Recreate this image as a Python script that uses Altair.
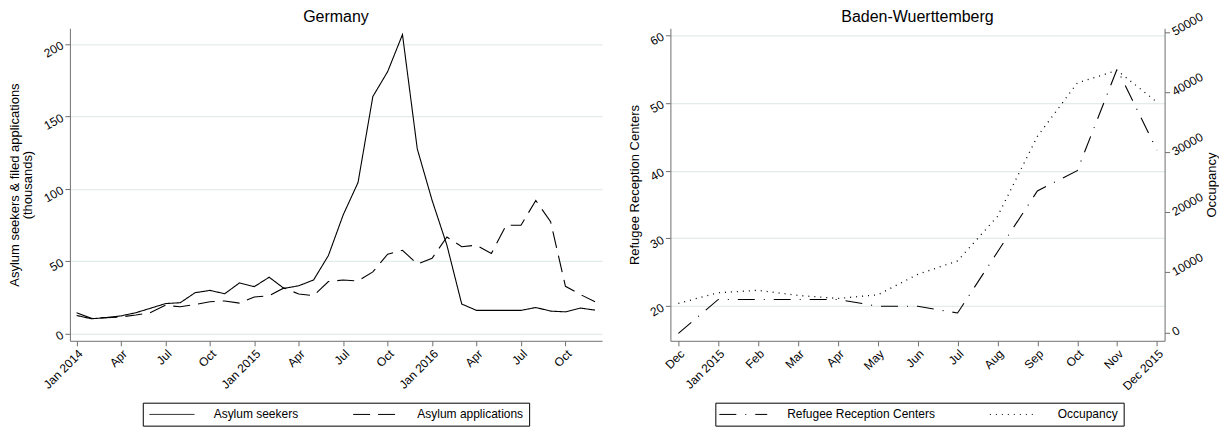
import json
import altair as alt
import pandas as pd

FONT = "Liberation Sans"

# ---------------- Germany (monthly, Jan 2014 - Dec 2016), thousands ----------------
de_months = [f"{y}-{m:02d}" for y in (2014, 2015, 2016) for m in range(1, 13)]
seekers = [12.5, 10.2, 11.0, 12.2, 14.4, 17.5, 20.7, 21.3, 28.2, 29.8, 27.5, 35.0,
           32.4, 38.9, 31.2, 33.0, 37.0, 53.9, 82.0, 104.3, 163.7, 180.9, 206.5, 127.5,
           92.0, 61.0, 20.4, 16.0, 16.0, 16.0, 16.0, 18.0, 15.5, 15.0, 17.6, 16.2]
applications = [14.4, 10.5, 11.0, 11.5, 12.8, 14.5, 19.5, 18.5, 20.0, 22.0, 22.5, 21.0,
                25.2, 26.2, 31.5, 27.3, 26.2, 35.9, 37.0, 36.3, 42.6, 54.8, 57.5, 48.0,
                52.0, 66.7, 60.0, 61.0, 55.3, 74.8, 74.8, 91.9, 77.3, 32.6, 27.0, 22.0]
de_series = ["Asylum seekers", "Asylum applications"]
de_tick_labels = ["Jan 2014", "Apr", "Jul", "Oct", "Jan 2015", "Apr", "Jul", "Oct",
                  "Jan 2016", "Apr", "Jul", "Oct"]
de_y_ticks = [0, 50, 100, 150, 200]

# ---------------- Baden-Wuerttemberg (monthly, Dec 2014 - Dec 2015) ----------------
bw_months = ["2014-12"] + [f"2015-{m:02d}" for m in range(1, 13)]
centers = [16, 21, 21, 21, 21, 20, 20, 19, 28, 37, 40, 55, 43]
occupancy = [4830, 6600, 7000, 6150, 5650, 6250, 9650, 11900, 19300, 32600, 41500, 43600, 38300]
bw_series = ["Refugee Reception Centers", "Occupancy"]
bw_tick_labels = ["Dec", "Jan 2015", "Feb", "Mar", "Apr", "May", "Jun", "Jul", "Aug",
                  "Sep", "Oct", "Nov", "Dec 2015"]
bw_left_ticks = [20, 30, 40, 50, 60]
bw_right_ticks = [0, 10000, 20000, 30000, 40000, 50000]

# ---------------- tables ----------------
de_rows = []
for i, m in enumerate(de_months):
    de_rows.append({"idx": i, "month": m, "value": seekers[i], "series": de_series[0]})
    de_rows.append({"idx": i, "month": m, "value": applications[i], "series": de_series[1]})
de_df = pd.DataFrame(de_rows)

bw_rows = []
for i, m in enumerate(bw_months):
    bw_rows.append({"idx": i, "month": m, "value": centers[i], "series": bw_series[0]})
    bw_rows.append({"idx": i, "month": m, "value": occupancy[i], "series": bw_series[1]})
bw_df = pd.DataFrame(bw_rows)

AX = "#6f6f6f"
GRID = "#e3ecec"

axis_style = dict(domainColor=AX, tickColor=AX, labelColor="black", titleColor="black",
                  labelFont=FONT, titleFont=FONT, labelFontSize=12, titleFontSize=13,
                  titleFontWeight="normal", tickSize=5, gridColor=GRID, gridWidth=1.2,
                  labelOverlap=False)

legend_style = dict(title=None, orient="none", direction="horizontal",
                    symbolType="M-4,0H4", symbolStrokeWidth=1, symbolStrokeColor="black",
                    symbolFillColor="transparent", labelFont=FONT, labelFontSize=12,
                    labelColor="black", strokeColor="black", fillColor="white",
                    padding=5, columnPadding=52)

# ---------------- left panel ----------------
de_label_expr = f"{json.dumps(de_tick_labels)}[round(datum.value / 3)]"

left = alt.Chart(de_df).mark_line(color="black", strokeWidth=1.1).encode(
    x=alt.X("idx:Q",
            scale=alt.Scale(domain=[-0.45, 35.47], nice=False, zero=False),
            axis=alt.Axis(values=list(range(0, 36, 3)), labelExpr=de_label_expr,
                          labelAngle=-45, labelAlign="right", labelBaseline="top",
                          grid=False, title=None, labelPadding=2, **axis_style)),
    y=alt.Y("value:Q",
            scale=alt.Scale(domain=[-5.0, 210.8], nice=False, zero=False),
            axis=alt.Axis(values=de_y_ticks, labelAngle=-30, labelAlign="right",
                          labelBaseline="middle", labelPadding=3, grid=True,
                          title=["Asylum seekers & filed applications", "(thousands)"],
                          titlePadding=7, titleLineHeight=13, **axis_style)),
    strokeDash=alt.StrokeDash(
        "series:N",
        scale=alt.Scale(domain=de_series, range=[[1, 0], [17, 8]]),
        legend=alt.Legend(legendX=73, legendY=375, symbolSize=126.5, symbolOffset=17.7,
                          labelOffset=35.3, **legend_style)),
).properties(width=533, height=313,
             title=alt.TitleParams("Germany", font=FONT, fontSize=16, fontWeight="normal",
                                   color="black", offset=3))

# ---------------- right panel ----------------
bw_label_expr = f"{json.dumps(bw_tick_labels)}[round(datum.value)]"

bw_x = alt.X("idx:Q",
             scale=alt.Scale(domain=[-0.2, 12.19], nice=False, zero=False),
             axis=alt.Axis(values=list(range(13)), labelExpr=bw_label_expr,
                           labelAngle=-45, labelAlign="right", labelBaseline="top",
                           grid=False, title=None, labelPadding=2, **axis_style))

bw_dash = alt.StrokeDash(
    "series:N",
    scale=alt.Scale(domain=bw_series, range=[[17, 9, 1, 9], [1, 5]]),
    legend=alt.Legend(legendX=45, legendY=375, symbolSize=144, symbolOffset=16.5,
                      labelOffset=37.5, **legend_style))

base = alt.Chart(bw_df)

centers_line = base.transform_filter(alt.datum.series == bw_series[0]).mark_line(
    color="black", strokeWidth=1.1).encode(
    x=bw_x,
    y=alt.Y("value:Q",
            scale=alt.Scale(domain=[14.9, 61.0], nice=False, zero=False),
            axis=alt.Axis(orient="left", values=bw_left_ticks, labelAngle=-30,
                          labelAlign="right", labelBaseline="middle", labelPadding=3,
                          grid=True, title="Refugee Reception Centers", titlePadding=6,
                          **axis_style)),
    strokeDash=bw_dash,
)

occ_line = base.transform_filter(alt.datum.series == bw_series[1]).mark_line(
    color="black", strokeWidth=1.3).encode(
    x=bw_x,
    y=alt.Y("value:Q",
            scale=alt.Scale(domain=[-1400, 50600], nice=False, zero=False),
            axis=alt.Axis(orient="right", values=bw_right_ticks, format="d",
                          labelAngle=-30, labelAlign="left", labelBaseline="middle",
                          labelPadding=3, grid=False, title="Occupancy", titleAngle=270,
                          titlePadding=14, **axis_style)),
    strokeDash=bw_dash,
)

right = alt.layer(centers_line, occ_line).resolve_scale(y="independent").properties(
    width=495, height=313,
    title=alt.TitleParams("Baden-Wuerttemberg", font=FONT, fontSize=16,
                          fontWeight="normal", color="black", offset=-15))

chart = alt.hconcat(left, right, spacing=68.5, bounds="flush").resolve_scale(
    strokeDash="independent").resolve_legend(strokeDash="independent").configure(
    padding=0, background="white").configure_view(stroke=None)

chart.save("out.html", embed_options={"renderer": "svg", "actions": False})
